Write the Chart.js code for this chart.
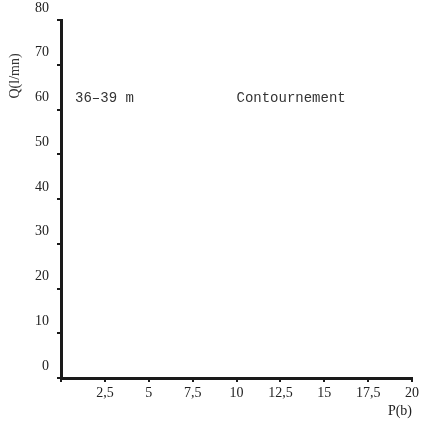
<!DOCTYPE html>
<html>
<head>
<meta charset="utf-8">
<script src="https://cdn.jsdelivr.net/npm/chart.js@4"></script>
<style>
  html, body { margin: 0; padding: 0; background: #fff; }
  #wrap { width: 428px; height: 430px; }
</style>
</head>
<body>
<div id="wrap"><canvas id="abaque"></canvas></div>
<script>
// axes
const xMin = 0, xMax = 20, xStep = 2.5;
const yMin = 0, yMax = 80, yStep = 10;
const xTitle = 'P(b)';
const yTitle = 'Q(l/mn)';

// courbes (vides sur la figure)
const pressions = [];
const debits = [];

// textes posés sur le graphe
const noteTexts = ['36\u201339 m', 'Contournement'];
const noteX = [0.8, 10];
const noteY = [62.5, 62.5];

const ink = '#1a1a1a';

const notesPlugin = {
  id: 'notes',
  beforeDraw(chart) {
    const c = chart.ctx;
    c.save();
    c.fillStyle = '#fff';
    c.fillRect(0, 0, chart.width, chart.height);
    c.restore();
  },
  afterDraw(chart) {
    const c = chart.ctx;
    const sx = chart.scales.x, sy = chart.scales.y;
    c.save();
    c.fillStyle = '#333';
    c.font = '14px "Liberation Mono", monospace';
    c.textAlign = 'left';
    c.textBaseline = 'middle';
    for (i = 0; i < noteTexts.length; i++) {
      c.fillText(noteTexts[i], sx.getPixelForValue(noteX[i]), sy.getPixelForValue(noteY[i]));
    }
    // titre de l'axe des débits, placé vers le haut comme sur l'original
    c.translate(15, sy.getPixelForValue(67.5));
    c.rotate(-Math.PI / 2);
    c.textAlign = 'center';
    c.font = '14px "Liberation Serif", serif';
    c.fillText(yTitle, 0, 0);
    c.restore();
  }
};

let i;
let myChart;

function setGraph() {
  const ctx = document.getElementById('abaque');
  myChart = new Chart(ctx, {
    type: 'scatter',
    data: {
      datasets: [{
        label: 'Q',
        data: pressions.map((p, k) => ({ x: p, y: debits[k] })),
        borderColor: ink,
        showLine: true
      }]
    },
    options: {
      responsive: true,
      maintainAspectRatio: false,
      animation: false,
      layout: { padding: { top: 20, right: 16, left: 0, bottom: 0 } },
      plugins: {
        legend: { display: false },
        tooltip: { enabled: false }
      },
      scales: {
        x: {
          type: 'linear',
          min: xMin,
          max: xMax,
          afterFit(scale) { scale.height = 52; },
          border: { display: true, color: ink, width: 3 },
          grid: { display: true, drawOnChartArea: false, drawTicks: true, tickLength: 4, color: ink, lineWidth: 2 },
          ticks: {
            stepSize: xStep,
            padding: 3,
            color: '#222',
            font: { family: '"Liberation Serif", serif', size: 14 },
            maxRotation: 0,
            autoSkip: false,
            callback: v => v === 0 ? '' : String(v).replace('.', ',')
          },
          title: {
            display: true,
            text: xTitle,
            align: 'end',
            color: '#222',
            font: { family: '"Liberation Serif", serif', size: 14 },
            padding: { top: 0, bottom: 10 }
          }
        },
        y: {
          type: 'linear',
          min: yMin,
          max: yMax,
          afterFit(scale) { scale.width = 61; },
          border: { display: true, color: ink, width: 3 },
          grid: { display: true, drawOnChartArea: false, drawTicks: true, tickLength: 4, color: ink, lineWidth: 2 },
          ticks: {
            stepSize: yStep,
            padding: 8,
            labelOffset: -12,
            color: '#222',
            font: { family: '"Liberation Serif", serif', size: 14 }
          },
          title: { display: false }
        }
      }
    },
    plugins: [notesPlugin]
  });
}

setGraph();
</script>
</body>
</html>
